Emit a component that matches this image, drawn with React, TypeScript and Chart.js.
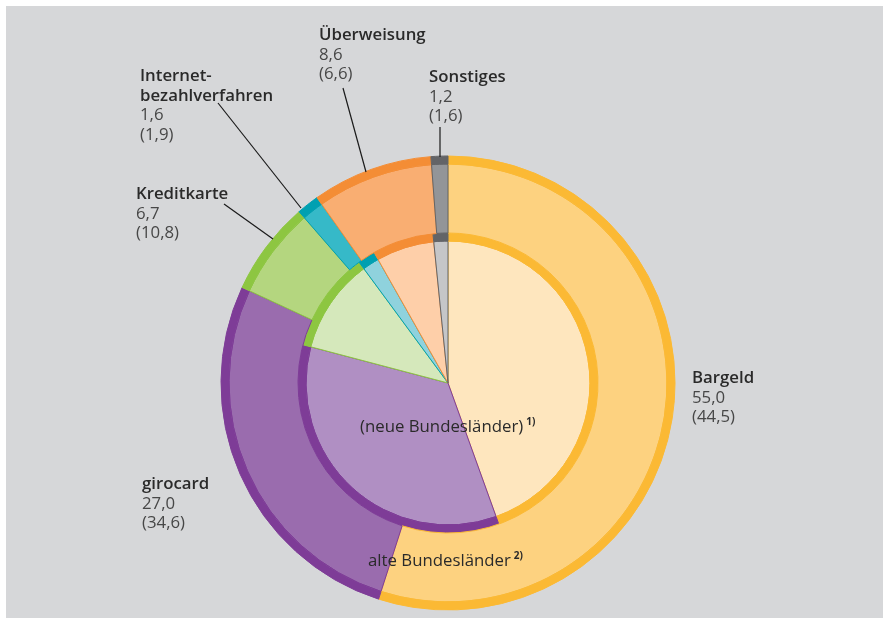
import React, { useEffect, useRef } from 'react';
import { Chart, registerables } from 'chart.js';

Chart.register(...registerables);

// ---- data ----
const categories = ['Bargeld', 'girocard', 'Kreditkarte', 'Internet-\nbezahlverfahren', 'Überweisung', 'Sonstiges'];
const alteValues = [55.0, 27.0, 6.7, 1.6, 8.6, 1.2]; // alte Bundesländer (outer ring)
const neueValues = [44.5, 34.6, 10.8, 1.9, 6.6, 1.6]; // neue Bundesländer (inner pie)
const innerCaption = '(neue Bundesländer)';
const innerNote = '1)';
const outerCaption = 'alte Bundesländer';
const outerNote = '2)';

// ---- styles ----
const edgeColors = ['#fbb934', '#7e3c97', '#8dc641', '#00a0b1', '#f48d35', '#636467'];
const outerFill = ['#fdd280', '#9a6cae', '#b4d67f', '#36b9c8', '#f9ae72', '#939598'];
const innerFill = ['#fee6be', '#b08fc3', '#d5e8bb', '#8fd2dd', '#fecfa9', '#c5c6c8'];

const W = 889;
const H = 618;
const RADIUS = 227;
const LINE_H = 19.5;
const FONT_PX = 16.8;

// label anchor (x, first baseline) and leader line, per category
const labelLayout = [
  { x: 692, y: 383, line: null },
  { x: 142, y: 489, line: null },
  { x: 136, y: 199, line: [224, 204, 273, 239] },
  { x: 140, y: 81, line: [218, 103, 301, 208] },
  { x: 319, y: 40, line: [343, 88, 366, 172] },
  { x: 429, y: 82, line: [440, 127, 440, 157] },
];

const fmt = (v: number) => v.toFixed(1).replace('.', ',');

const labelPlugin = {
  id: 'labels',
  afterDraw(chart: any) {
    const ctx = chart.ctx as CanvasRenderingContext2D;
    ctx.save();
    ctx.textBaseline = 'alphabetic';
    ctx.textAlign = 'left';
    // leader lines
    ctx.strokeStyle = '#1a1a1a';
    ctx.lineWidth = 1.2;
    labelLayout.forEach((l) => {
      if (!l.line) return;
      ctx.beginPath();
      ctx.moveTo(l.line[0], l.line[1]);
      ctx.lineTo(l.line[2], l.line[3]);
      ctx.stroke();
    });
    // labels
    categories.forEach((name, i) => {
      const l = labelLayout[i];
      let y = l.y;
      ctx.font = `600 ${FONT_PX}px "Open Sans"`;
      ctx.fillStyle = '#2a2a2a';
      name.split('\n').forEach((part) => {
        ctx.fillText(part, l.x, y);
        y += LINE_H;
      });
      ctx.font = `400 ${FONT_PX}px "Open Sans"`;
      ctx.fillStyle = '#474747';
      ctx.fillText(fmt(alteValues[i]), l.x, y);
      y += LINE_H;
      ctx.fillText('(' + fmt(neueValues[i]) + ')', l.x, y);
    });
    // ring captions
    const drawCaption = (text: string, note: string, x: number, y: number) => {
      ctx.font = `400 ${FONT_PX}px "Open Sans"`;
      ctx.fillStyle = '#2a2a2a';
      ctx.fillText(text, x, y);
      const w = ctx.measureText(text).width;
      ctx.font = '700 10px "Open Sans"';
      ctx.fillText(note, x + w + 3, y - 7);
    };
    drawCaption(innerCaption, innerNote, 360, 432);
    drawCaption(outerCaption, outerNote, 368, 566);
    ctx.restore();
  },
};

export default function App() {
  const ref = useRef<HTMLCanvasElement | null>(null);

  useEffect(() => {
    if (!ref.current) return;
    const chart = new Chart(ref.current, {
      type: 'doughnut',
      data: {
        labels: categories,
        datasets: [
          { data: alteValues, backgroundColor: edgeColors, borderColor: edgeColors, borderWidth: 1, weight: 8 },
          { data: alteValues, backgroundColor: outerFill, borderColor: edgeColors, borderWidth: 1, weight: 69 },
          { data: neueValues, backgroundColor: edgeColors, borderColor: edgeColors, borderWidth: 1, weight: 8 },
          { data: neueValues, backgroundColor: innerFill, borderColor: edgeColors, borderWidth: 1, weight: 142 },
        ],
      } as any,
      options: {
        responsive: false,
        animation: false,
        events: [],
        cutout: 0,
        radius: RADIUS,
        layout: { padding: { left: 7, right: 0, top: 148, bottom: 0 } },
        plugins: { legend: { display: false }, tooltip: { enabled: false } },
      } as any,
      plugins: [labelPlugin],
    });
    return () => chart.destroy();
  }, []);

  return (
    <div style={{ position: 'fixed', left: 0, top: 0, width: W, height: H, background: '#ffffff' }}>
      <div style={{ position: 'absolute', left: 6, top: 6, width: 877, height: 612, background: '#d6d7d9' }} />
      <canvas ref={ref} width={W} height={H} style={{ position: 'absolute', left: 0, top: 0 }} />
    </div>
  );
}
